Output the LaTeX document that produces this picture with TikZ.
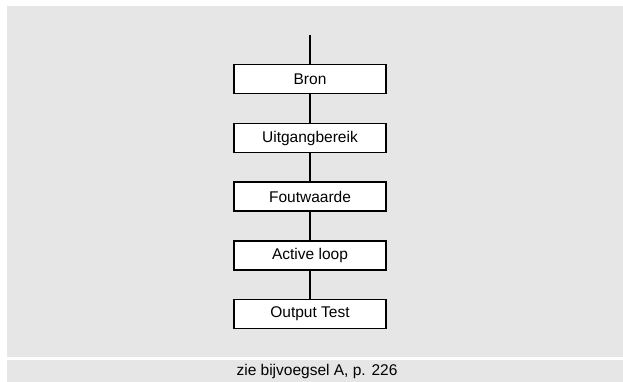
\documentclass[tikz,border=0pt]{standalone}
\usepackage{fontspec}
\setmainfont{Liberation Sans}
\definecolor{panel}{HTML}{E6E6E6}
\begin{document}
\begin{tikzpicture}[x=1pt,y=-1pt,
  stepbox/.style={draw=black,line width=1.6pt,fill=white,minimum width=152pt,minimum height=29pt,inner sep=0pt,font=\fontsize{15.5}{18}\selectfont},
  link/.style={line width=1.3pt}]
\useasboundingbox (0,0) rectangle (623,382);
\fill[white] (0,0) rectangle (623,382);
\fill[panel] (7,6) rectangle (623,357);
\fill[panel] (7,359.5) rectangle (623,382);
\node[stepbox] (b1) at (310,79) {Bron};
\node[stepbox] (b2) at (310,138) {Uitgangbereik};
\node[stepbox] (b3) at (310,196.5) {Foutwaarde};
\node[stepbox] (b4) at (310,255.5) {Active loop};
\node[stepbox] (b5) at (310,314) {Output Test};
\coordinate (top) at (310,35);
\draw[link] (top) -- (b1.north);
\draw[link] (b1) -- (b2);
\draw[link] (b2) -- (b3);
\draw[link] (b3) -- (b4);
\draw[link] (b4) -- (b5);
\node[font=\fontsize{15.5}{18}\selectfont] (cap) at (317,371.5) {zie bijvoegsel A, p. 226};
\end{tikzpicture}
\end{document}
